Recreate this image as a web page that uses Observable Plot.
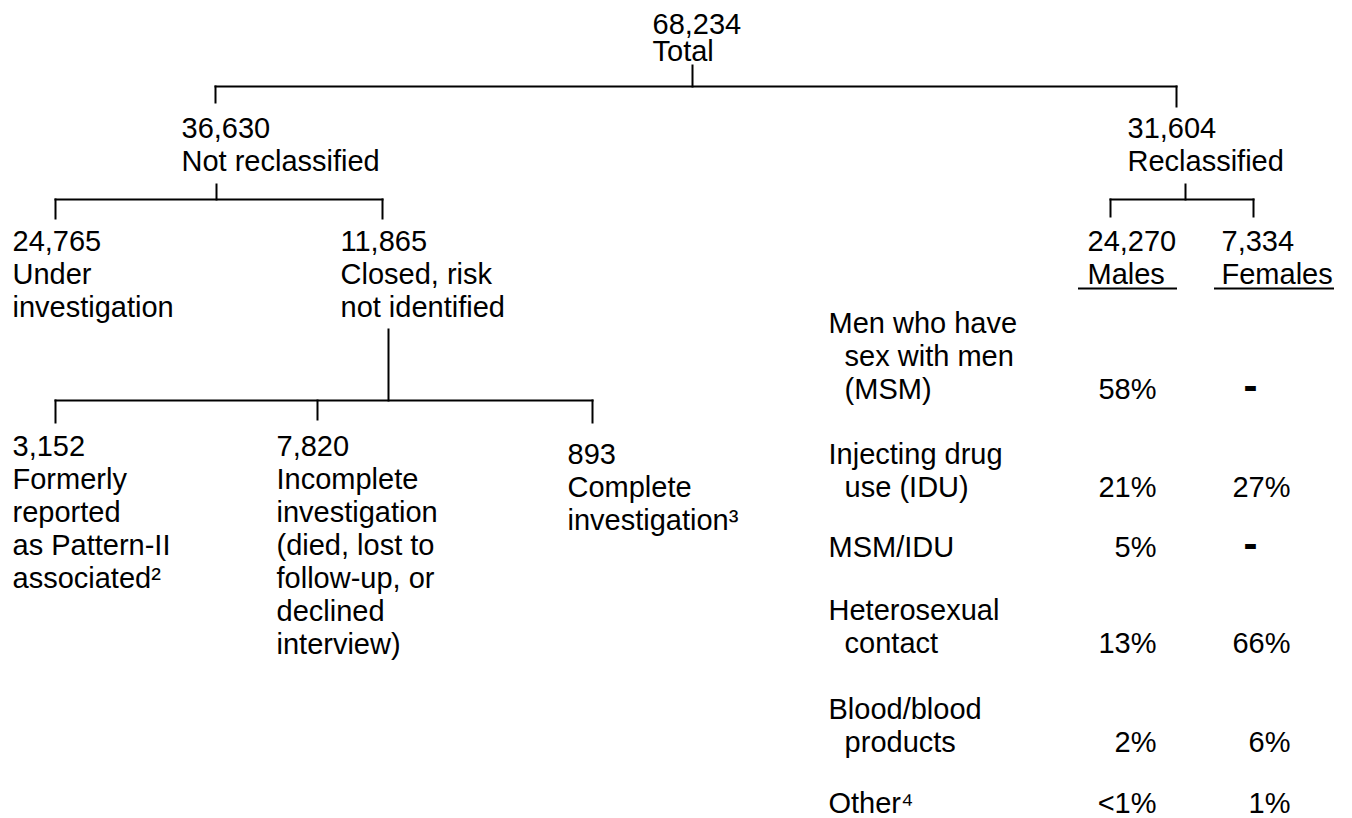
<!DOCTYPE html>
<html>
<head>
<meta charset="utf-8">
<script src="https://cdn.jsdelivr.net/npm/d3@7"></script>
<script src="https://cdn.jsdelivr.net/npm/@observablehq/plot@0.6"></script>
<style>
  html, body { margin: 0; padding: 0; background: #fff; }
  #chart svg { display: block; }
</style>
</head>
<body>
<div id="chart"></div>
<script>
// ---------- Data ----------
// Tree nodes
const nodeIds = ["total", "notReclassified", "reclassified", "under", "closed",
                 "formerly", "incomplete", "complete", "males", "females"];
const nodeCounts = [68234, 36630, 31604, 24765, 11865, 3152, 7820, 893, 24270, 7334];
const nodeLabels = [
  "Total",
  "Not reclassified",
  "Reclassified",
  "Under\ninvestigation",
  "Closed, risk\nnot identified",
  "Formerly\nreported\nas Pattern-II\nassociated\u00b2",
  "Incomplete\ninvestigation\n(died, lost to\nfollow-up, or\ndeclined\ninterview)",
  "Complete\ninvestigation\u00b3",
  "Males",
  "Females"
];
const nodeParents = [null, "total", "total", "notReclassified", "notReclassified",
                     "closed", "closed", "closed", "reclassified", "reclassified"];

// Risk table (reclassified cases)
const riskCategories = [
  "Men who have\n\u00a0\u00a0sex with men\n\u00a0\u00a0(MSM)",
  "Injecting drug\n\u00a0\u00a0use (IDU)",
  "MSM/IDU",
  "Heterosexual\n\u00a0\u00a0contact",
  "Blood/blood\n\u00a0\u00a0products",
  "Other\u2074"
];
const malePct   = ["58%", "21%", "5%", "13%", "2%", "<1%"];
const femalePct = ["-", "27%", "-", "66%", "6%", "1%"];

// ---------- Layout (positions kept apart from data) ----------
const W = 1352, H = 818, FS = 29;
const nodeLayout = {
  total:           {x: 652,  top: 13,  gap: 27, stemX: 692,  stemTop: 65,  barY: 86},
  notReclassified: {x: 181,  top: 117, gap: 33, dropX: 215,  dropEnd: 102, stemX: 216, stemTop: 184, barY: 199},
  reclassified:    {x: 1127, top: 117, gap: 33, dropX: 1176, dropEnd: 106, stemX: 1185, stemTop: 184, barY: 199},
  under:           {x: 12,   top: 230, gap: 33, dropX: 55,   dropEnd: 218},
  closed:          {x: 340,  top: 230, gap: 33, dropX: 382,  dropEnd: 218, stemX: 388, stemTop: 329, barY: 400},
  formerly:        {x: 12,   top: 435, gap: 33, dropX: 55,   dropEnd: 422},
  incomplete:      {x: 276,  top: 435, gap: 33, dropX: 317,  dropEnd: 419},
  complete:        {x: 567,  top: 443, gap: 33, dropX: 592,  dropEnd: 422},
  males:           {x: 1087, top: 230, gap: 33, dropX: 1110, dropEnd: 216, ul: [1078, 1177, 288]},
  females:         {x: 1221, top: 230, gap: 33, dropX: 1253, dropEnd: 216, ul: [1214, 1334, 288]}
};
const tableLayout = {labelX: 828, maleRight: 1156, femaleRight: 1290, dashX: 1250,
                     valueTops: [378, 476, 536, 632, 731, 792], gap: 33};

// y for Plot text with lineAnchor "top" so that the first line's cap top sits at `top`
const yFor = (top, gap) => top + 0.716 * FS - 0.71 * gap;

// ---------- Build tables ----------
const fmt = d3.format(",");
const nodes = nodeIds.map((id, i) => ({
  id, count: nodeCounts[i], label: nodeLabels[i], parent: nodeParents[i], ...nodeLayout[id]
}));

const segments = [];
for (const p of nodes) {
  const kids = nodes.filter(n => n.parent === p.id);
  if (!kids.length) continue;
  segments.push({x1: p.stemX, y1: p.stemTop, x2: p.stemX, y2: p.barY});
  const xs = kids.map(k => k.dropX);
  segments.push({x1: d3.min(xs), y1: p.barY, x2: d3.max(xs), y2: p.barY});
  for (const k of kids) segments.push({x1: k.dropX, y1: p.barY, x2: k.dropX, y2: k.dropEnd});
}
const underlines = nodes.filter(n => n.ul).map(n => ({x1: n.ul[0], x2: n.ul[1], y: n.ul[2]}));

const rows = riskCategories.map((cat, i) => {
  const nLines = cat.split("\n").length;
  const vTop = tableLayout.valueTops[i];
  return {
    cat, male: malePct[i], female: femalePct[i],
    labelY: yFor(vTop - (nLines - 1) * tableLayout.gap, tableLayout.gap),
    valueY: yFor(vTop, tableLayout.gap),
    midY: vTop + 0.358 * FS
  };
});

// ---------- Marks ----------
const gaps = [...new Set(nodes.map(n => n.gap))];
const nodeTextMarks = gaps.map(g => Plot.text(nodes.filter(n => n.gap === g), {
  x: "x",
  y: n => yFor(n.top, n.gap),
  text: n => fmt(n.count) + "\n" + n.label,
  textAnchor: "start", lineAnchor: "top", lineHeight: g / FS,
  fontSize: FS, fill: "black"
}));

const chart = Plot.plot({
  width: W, height: H,
  margin: 0,
  x: {domain: [0, W], range: [0, W], axis: null},
  y: {domain: [0, H], range: [0, H], axis: null},
  style: {fontFamily: "'Liberation Sans', Arial, Helvetica, sans-serif", background: "white", color: "black"},
  marks: [
    Plot.link(segments, {x1: "x1", y1: "y1", x2: "x2", y2: "y2", stroke: "black", strokeWidth: 2, strokeLinecap: "square"}),
    Plot.ruleY(underlines, {x1: "x1", x2: "x2", y: "y", stroke: "black", strokeWidth: 2}),
    ...nodeTextMarks,
    Plot.text(rows, {x: () => tableLayout.labelX, y: "labelY", text: "cat",
      textAnchor: "start", lineAnchor: "top", lineHeight: tableLayout.gap / FS, fontSize: FS, fill: "black"}),
    Plot.text(rows, {x: () => tableLayout.maleRight, y: "valueY", text: "male",
      textAnchor: "end", lineAnchor: "top", lineHeight: tableLayout.gap / FS, fontSize: FS, fill: "black"}),
    Plot.text(rows.filter(r => r.female !== "-"), {x: () => tableLayout.femaleRight, y: "valueY", text: "female",
      textAnchor: "end", lineAnchor: "top", lineHeight: tableLayout.gap / FS, fontSize: FS, fill: "black"}),
    Plot.text(rows.filter(r => r.female === "-"), {x: () => tableLayout.dashX, y: r => r.midY - 2, text: "female",
      textAnchor: "middle", lineAnchor: "middle", fontSize: 42, fontWeight: "bold", fill: "black"})
  ]
});
document.getElementById("chart").appendChild(chart);
</script>
</body>
</html>
